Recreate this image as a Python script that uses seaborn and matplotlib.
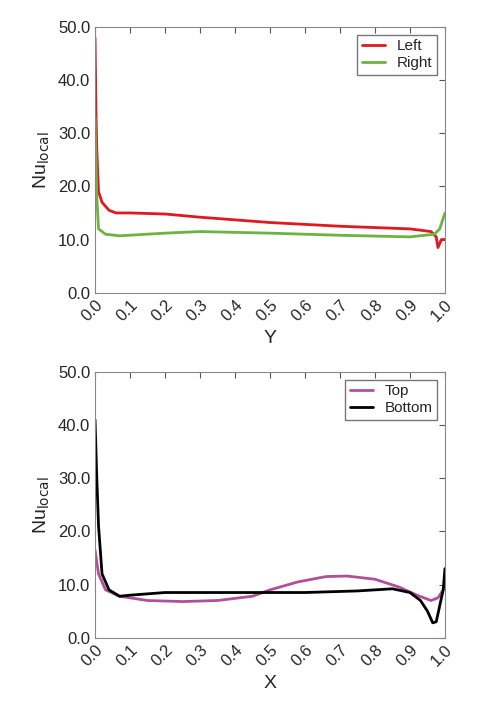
import matplotlib
matplotlib.use("Agg")
import matplotlib.pyplot as plt
import seaborn as sns
import pandas as pd

sns.set_style("white")
plt.rcParams['font.family'] = ['Liberation Sans', 'DejaVu Sans']

left_y = [0, 0.003, 0.005, 0.01, 0.02, 0.04, 0.06, 0.1, 0.2, 0.3, 0.5, 0.7, 0.9, 0.96, 0.975, 0.98, 0.99, 1.0]
left_v = [48, 33, 27, 19, 17, 15.5, 15, 15, 14.8, 14.2, 13.2, 12.5, 12, 11.5, 10.5, 8.5, 10, 10]
right_y = [0, 0.005, 0.01, 0.03, 0.07, 0.2, 0.3, 0.5, 0.7, 0.9, 0.97, 0.985, 1.0]
right_v = [33, 18, 12, 11, 10.7, 11.2, 11.5, 11.2, 10.8, 10.5, 11, 12, 15]
top_x = [0, 0.01, 0.03, 0.07, 0.15, 0.25, 0.35, 0.45, 0.5, 0.58, 0.66, 0.72, 0.8, 0.87, 0.92, 0.96, 0.98, 1.0]
top_v = [16.5, 12, 9, 7.8, 7, 6.8, 7, 7.8, 9, 10.5, 11.5, 11.6, 11, 9.5, 8, 7, 7.5, 9.5]
bot_x = [0, 0.005, 0.01, 0.02, 0.04, 0.07, 0.1, 0.2, 0.4, 0.6, 0.75, 0.85, 0.9, 0.93, 0.95, 0.965, 0.975, 0.985, 0.995, 1.0]
bot_v = [41, 30, 21, 12, 9, 7.8, 8, 8.5, 8.5, 8.5, 8.8, 9.2, 8.5, 7, 5, 2.8, 3, 6, 9, 13]

fig = plt.figure(figsize=(4.8, 7.07), dpi=100)
ax1 = fig.add_axes([0.198, 0.586, 0.729, 0.376])
ax2 = fig.add_axes([0.198, 0.098, 0.729, 0.376])

sns.lineplot(x=left_y, y=left_v, ax=ax1, color="#e0191e", lw=2, label="Left")
sns.lineplot(x=right_y, y=right_v, ax=ax1, color="#6cb33f", lw=2, label="Right")
sns.lineplot(x=top_x, y=top_v, ax=ax2, color="#b0509a", lw=2, label="Top")
sns.lineplot(x=bot_x, y=bot_v, ax=ax2, color="black", lw=2, label="Bottom")

ticks = [i / 10 for i in range(11)]
for ax, xl in [(ax1, "Y"), (ax2, "X")]:
    ax.set_xlim(0, 1)
    ax.set_ylim(0, 50)
    ax.set_xticks(ticks)
    ax.set_xticklabels([f"{t:.1f}" for t in ticks], rotation=45, fontsize=12,
                       ha="right", rotation_mode="anchor")
    ax.set_yticks(range(0, 51, 10))
    ax.set_yticklabels([f"{v:.1f}" for v in range(0, 51, 10)], fontsize=12)
    ax.tick_params(direction="in", top=True, right=True, length=4, color="#555555")
    for s in ax.spines.values():
        s.set_color("#888888")
    ax.set_xlabel(xl, fontsize=14)
    ax.set_ylabel(r"Nu$_{\mathrm{local}}$", fontsize=14)
    leg = ax.legend(loc="upper right", fontsize=11, frameon=True, fancybox=False,
                    handlelength=1.5, borderpad=0.3, labelspacing=0.2)
    leg.get_frame().set_edgecolor("#555555")

fig.savefig("out.png", dpi=100)
